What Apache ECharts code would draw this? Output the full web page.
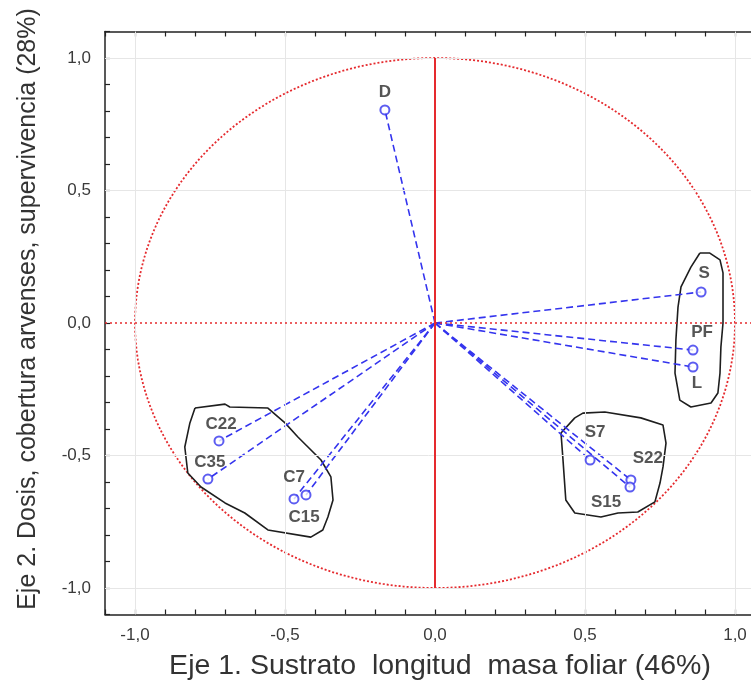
<!DOCTYPE html>
<html>
<head>
<meta charset="utf-8">
<script src="https://cdn.jsdelivr.net/npm/echarts@6/dist/echarts.min.js"></script>
<style>html,body{margin:0;padding:0;background:#fff;}#c{width:751px;height:685px;}</style>
</head>
<body>
<div id="c"></div>
<script>
// ---- data ----
var varNames = ['D','S','PF','L','S7','S22','S15','C22','C35','C7','C15'];
var axis1 = [-0.167, 0.887, 0.86, 0.86, 0.517, 0.653, 0.65, -0.72, -0.757, -0.43, -0.47];
var axis2 = [0.804, 0.117, -0.102, -0.166, -0.517, -0.592, -0.619, -0.445, -0.589, -0.649, -0.664];
var xTitle = 'Eje 1. Sustrato  longitud  masa foliar (46%)';
var yTitle = 'Eje 2. Dosis, cobertura arvenses, supervivencia (28%)';
// group outlines (data space)
var hullC = [[-0.80,-0.321],[-0.70,-0.306],[-0.684,-0.317],[-0.557,-0.321],[-0.50,-0.377],[-0.457,-0.430],[-0.38,-0.517],[-0.347,-0.581],[-0.34,-0.668],[-0.357,-0.732],[-0.374,-0.781],[-0.414,-0.808],[-0.557,-0.781],[-0.634,-0.717],[-0.70,-0.679],[-0.78,-0.619],[-0.824,-0.566],[-0.834,-0.468],[-0.817,-0.377],[-0.80,-0.321]];
var hullS = [[0.466,-0.358],[0.493,-0.34],[0.566,-0.336],[0.686,-0.358],[0.76,-0.385],[0.77,-0.453],[0.76,-0.543],[0.75,-0.604],[0.733,-0.675],[0.676,-0.713],[0.61,-0.717],[0.553,-0.732],[0.466,-0.717],[0.436,-0.668],[0.426,-0.506],[0.42,-0.415],[0.466,-0.358]];
var hullR = [[0.883,0.264],[0.916,0.264],[0.95,0.238],[0.96,0.189],[0.96,0.0],[0.953,-0.091],[0.95,-0.189],[0.943,-0.264],[0.92,-0.302],[0.853,-0.317],[0.816,-0.291],[0.80,-0.189],[0.803,-0.064],[0.81,0.06],[0.82,0.136],[0.853,0.211],[0.883,0.264]];

// ---- styling (label offsets in px) ----
var labelOffset = {D:[0,-18],S:[3,-19],PF:[9,-18],L:[4,16],S7:[5,-28],S22:[17,-22],S15:[-24,15],C22:[2,-17],C35:[2,-17],C7:[-12,-18],C15:[10,18]};
var BLUE = '#3434ee', RED = '#e52a2e';

function fmt(v){var r=Math.round(v*10); if(r%5!==0) return ''; return (r/10).toFixed(1).replace('.',',');}

var circle = [];
for (var a=0;a<=360;a+=2){circle.push([Math.cos(a*Math.PI/180),Math.sin(a*Math.PI/180)]);}

var series = [];
series.push({type:'line',data:circle,showSymbol:false,silent:true,z:2,
  lineStyle:{color:RED,width:1.8,type:[2,2]},
  markLine:{silent:true,symbol:'none',label:{show:false},
    data:[
      {xAxis:-1,lineStyle:{color:'#e6e6e6',width:1,type:'solid'}},
      {xAxis:-0.5,lineStyle:{color:'#e6e6e6',width:1,type:'solid'}},
      {xAxis:0.5,lineStyle:{color:'#e6e6e6',width:1,type:'solid'}},
      {xAxis:1,lineStyle:{color:'#e6e6e6',width:1,type:'solid'}},
      {yAxis:1,lineStyle:{color:'#e6e6e6',width:1,type:'solid'}},
      {yAxis:0.5,lineStyle:{color:'#e6e6e6',width:1,type:'solid'}},
      {yAxis:-0.5,lineStyle:{color:'#e6e6e6',width:1,type:'solid'}},
      {yAxis:-1,lineStyle:{color:'#e6e6e6',width:1,type:'solid'}},
      {yAxis:0,lineStyle:{color:RED,width:1.6,type:[2,3]}},
      [{coord:[0,-1]},{coord:[0,1]}]
    ],
    lineStyle:{color:RED,width:2,type:'solid'}
  }
});
[hullC,hullS,hullR].forEach(function(h){
  series.push({type:'line',data:h,showSymbol:false,silent:true,z:3,lineStyle:{color:'#1e1e1e',width:1.6}});
});
for (var i=0;i<varNames.length;i++){
  series.push({type:'line',data:[[0,0],[axis1[i],axis2[i]]],showSymbol:false,silent:true,z:4,
    lineStyle:{color:BLUE,width:1.6,type:[7,4]}});
}
series.push({type:'scatter',z:5,symbol:'emptyCircle',symbolSize:9,
  itemStyle:{color:BLUE,borderColor:BLUE,borderWidth:1.5},
  data:varNames.map(function(n,i){return {name:n,value:[axis1[i],axis2[i]],
    label:{show:true,formatter:n,position:'inside',offset:labelOffset[n],
      color:'#2a2a2a',fontSize:17,fontWeight:'bold',fontFamily:'Liberation Sans',align:'center',verticalAlign:'middle'}};})
});

var axisCommon = {type:'value',min:-1.1,max:1.1,interval:0.1,
  axisLine:{show:true,onZero:false,lineStyle:{color:'#222',width:1.5}},
  axisTick:{show:true,inside:true,length:5,lineStyle:{color:'#222',width:1.2}},
  splitLine:{show:false}};

var option = {
  backgroundColor:'#fff',
  animation:false,
  grid:{left:105,top:31.5,width:660,height:583,containLabel:false,outerBoundsMode:'none'},
  xAxis:[
    Object.assign({},axisCommon,{position:'bottom',
      axisLabel:{formatter:fmt,interval:0,color:'#3a3a3a',fontSize:17,fontFamily:'Liberation Sans',margin:12}}),
    Object.assign({},axisCommon,{position:'top',axisLabel:{show:false}})
  ],
  yAxis:[
    Object.assign({},axisCommon,{position:'left',
      axisLabel:{formatter:fmt,interval:0,color:'#3a3a3a',fontSize:17,fontFamily:'Liberation Sans',margin:14}}),
    Object.assign({},axisCommon,{position:'right',axisLabel:{show:false}})
  ],
  graphic:[
    {type:'text',x:440,y:666,style:{text:xTitle,fill:'#333',font:'28.5px "Liberation Sans"',textAlign:'center',textVerticalAlign:'middle'}},
    {type:'text',x:28,y:309,rotation:Math.PI/2,style:{text:yTitle,fill:'#333',font:'25px "Liberation Sans"',textAlign:'center',textVerticalAlign:'middle'}}
  ],
  series:series
};
var chart = echarts.init(document.getElementById('c'));
chart.setOption(option);
</script>
</body>
</html>
